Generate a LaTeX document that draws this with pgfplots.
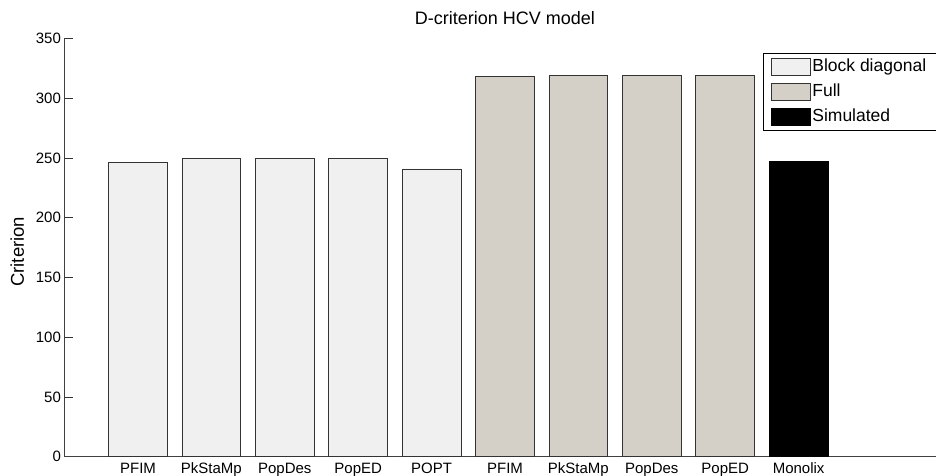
\documentclass[border=0pt]{standalone}
\usepackage{pgfplots}
\pgfplotsset{compat=1.18}
\usepackage{fontspec}
\setmainfont{Liberation Sans}
\definecolor{blockc}{RGB}{240,240,240}
\definecolor{fullc}{RGB}{212,208,200}
\begin{document}
\begin{tikzpicture}
\begin{axis}[
  scale only axis,
  width=880.8bp, height=418.4bp,
  xmin=0, xmax=12, ymin=0, ymax=350,
  axis x line*=bottom, axis y line*=left,
  axis line style={black!75, line width=0.8bp, -},
  xtick={1,...,10},
  xticklabels={PFIM,PkStaMp,PopDes,PopED,POPT,PFIM,PkStaMp,PopDes,PopED,Monolix},
  xtick style={draw=none},
  ytick={0,50,...,350},
  tick align=inside,
  major tick length=8bp,
  ytick style={black!80, line width=0.6bp},
  /pgf/number format/assume math mode=true,
  ticklabel style={font=\fontsize{15bp}{18bp}\selectfont},
  xticklabel style={anchor=base, inner sep=0pt, yshift=-9bp},
  yticklabel style={anchor=east, inner sep=0pt, xshift=-3.5bp},
  ylabel={Criterion},
  ylabel style={font=\fontsize{18.5bp}{20bp}\selectfont, at={(rel axis cs:-0.0461,0.49)}, anchor=base, inner sep=0pt},
  title={D-criterion HCV model},
  title style={font=\fontsize{18bp}{20bp}\selectfont, at={(rel axis cs:0.5,1)}, anchor=base, inner sep=0pt, yshift=8bp},
  ybar, bar width=0.8, bar shift=0pt,
  legend cell align=left,
  legend style={at={(rel axis cs:0.793,0.965)}, anchor=north west, draw=black, line width=1bp,
    font=\fontsize{17.5bp}{20bp}\selectfont, row sep=0pt, inner xsep=7bp, inner ysep=1bp,
    nodes={inner xsep=2bp, inner ysep=4bp, text height=13bp, text depth=4bp}},
  legend image code/.code={\draw[#1, line width=0.8bp] (0bp,-8.5bp) rectangle (39bp,8.5bp);},
]
\addplot[fill=blockc, draw=black!80, line width=0.8bp] coordinates {(1,246.3) (2,249.6) (3,249.6) (4,249.6) (5,240.7)};
\addlegendentry{\makebox[130bp][l]{Block diagonal}}
\addplot[fill=fullc, draw=black!80, line width=0.8bp] coordinates {(6,318.0) (7,318.6) (8,318.6) (9,318.6)};
\addlegendentry{Full}
\addplot[fill=black, draw=black, line width=0.8bp] coordinates {(10,247.3)};
\addlegendentry{Simulated}
\end{axis}
\pgfresetboundingbox
\path[use as bounding box] (-64.6bp,-19.3bp) rectangle (871.4bp,456.7bp);
\end{tikzpicture}
\end{document}
